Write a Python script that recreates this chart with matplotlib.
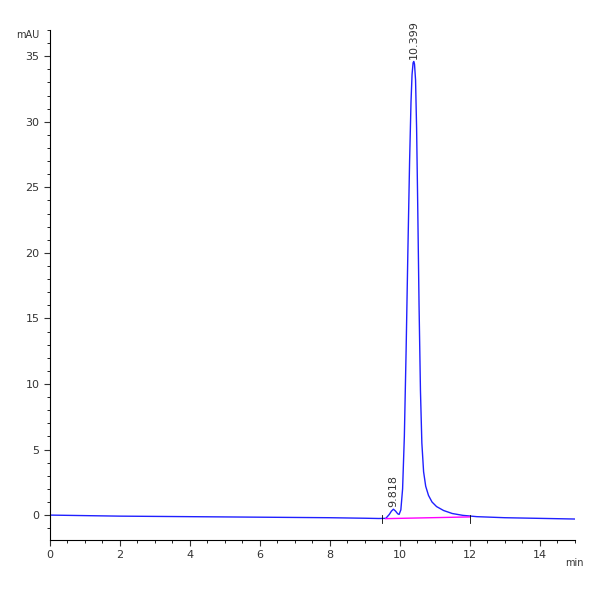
import matplotlib
matplotlib.use("Agg")
import matplotlib.pyplot as plt
from matplotlib.ticker import MultipleLocator

# points (min, mAU)
times = [0, 2, 4, 6, 8, 9.0, 9.4, 9.6, 9.7, 9.76, 9.818, 9.88, 9.94, 9.98, 10.03,
         10.08, 10.13, 10.18, 10.23, 10.28, 10.32, 10.35, 10.38, 10.399, 10.42, 10.45,
         10.48, 10.51, 10.55, 10.59, 10.63, 10.68, 10.74, 10.82, 10.92, 11.05, 11.25,
         11.5, 11.8, 12.2, 13, 14, 15]
signal = [0.0, -0.08, -0.12, -0.16, -0.2, -0.24, -0.26, -0.25, 0.05, 0.3, 0.45, 0.3,
          0.1, 0.05, 0.4, 2.0, 6.0, 12.5, 20.0, 27.0, 31.5, 33.6, 34.5, 34.6, 34.4, 33.2,
          29.5, 24.0, 16.0, 9.5, 5.5, 3.3, 2.2, 1.5, 1.0, 0.65, 0.35, 0.12, -0.02, -0.12,
          -0.2, -0.25, -0.3]
peak_times = [9.818, 10.399]
peak_heights = [0.45, 34.6]
base_t = [9.6, 12.0]
base_y = [-0.27, -0.14]

fig, ax = plt.subplots(figsize=(6, 6), dpi=100)
fig.subplots_adjust(left=0.083, right=0.958, bottom=0.1, top=0.95)

ax.plot(times, signal, color="#2020ff", lw=1.0)
ax.plot(base_t, base_y, color="#ff00ff", lw=1.0)
for t in base_t:
    tx = t - 0.1 if t < 10 else t
    ax.plot([tx, tx], [-0.6, 0.0], color="black", lw=0.6)

for t, h in zip(peak_times, peak_heights):
    ax.text(t, h + 0.2, f"{t:.3f}", rotation=90, ha="center", va="bottom",
            fontsize=8, color="#333333")

ax.set_xlim(0, 15)
ax.set_ylim(-1.9, 37)
ax.xaxis.set_major_locator(MultipleLocator(2))
ax.xaxis.set_minor_locator(MultipleLocator(0.5))
ax.yaxis.set_major_locator(MultipleLocator(5))
ax.yaxis.set_minor_locator(MultipleLocator(1))
ax.tick_params(labelsize=8, length=4, colors="#333333")
ax.tick_params(which="minor", length=2)
for s in ["top", "right"]:
    ax.spines[s].set_visible(False)
ax.text(-0.02, 1.0, "mAU", transform=ax.transAxes, ha="right", va="top", fontsize=7, color="#333333")
ax.text(1.0, -0.035, "min", transform=ax.transAxes, ha="center", va="top", fontsize=7, color="#333333")

fig.savefig("out.png")
